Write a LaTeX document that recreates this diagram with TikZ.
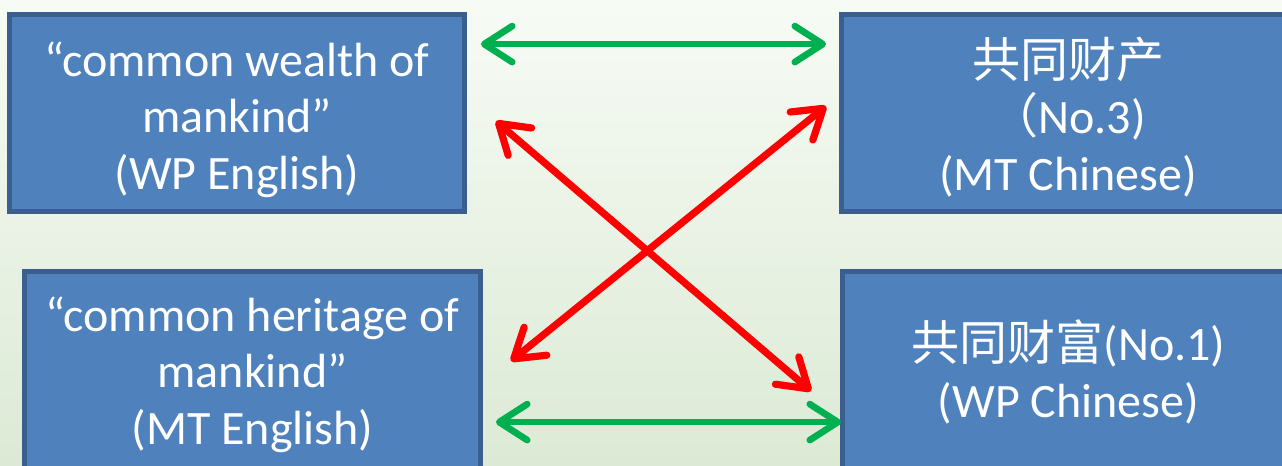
\documentclass[tikz,border=0pt]{standalone}
\usepackage{fontspec}
\setmainfont{Carlito}
\newfontfamily\cjk{Noto Sans CJK SC}
\usetikzlibrary{arrows.meta, calc}
\definecolor{boxfill}{HTML}{4F81BD}
\definecolor{boxline}{HTML}{3A5E8E}
\definecolor{linkgreen}{HTML}{00B050}
\definecolor{linkred}{HTML}{FF0000}
\definecolor{bgtop}{HTML}{F7FBF5}
\definecolor{bgbottom}{HTML}{DCEAD5}
\def\px{0.75pt}
\newcommand{\firstline}[1][36pt]{\rule{0pt}{#1}}
\tikzset{
  termbox/.style={draw=boxline, line width=3.6pt, fill=boxfill, text=white,
    align=center, inner sep=0pt, font=\fontsize{36}{42.5}\selectfont},
  samelink/.style={draw=linkgreen, line width=5pt,
    {Straight Barb[length=21pt,width=27pt,round]}-{Straight Barb[length=21pt,width=27pt,round]}},
  crosslink/.style={draw=linkred, line width=5.4pt,
    {Straight Barb[length=21pt,width=27pt,round]}-{Straight Barb[length=21pt,width=27pt,round]}},
}

\begin{document}
\begin{tikzpicture}[x=\px, y=-\px]
\useasboundingbox (0,0) rectangle (1282,465);
\clip (0,0) rectangle (1282,465);
\shade[top color=bgtop, bottom color=bgbottom] (0,0) rectangle (1282,465);

% the four renderings
\node[termbox, minimum width=455*\px, minimum height=197*\px] (wpEn) at (237,113)
  {\firstline``common wealth of\\ mankind''\\ (WP English)};
\node[termbox, minimum width=453*\px, minimum height=197*\px] (mtZh) at (1068,113)
  {\firstline{\cjk 共同财产}\\ {\cjk （}No.3)\\ (MT Chinese)};
\node[termbox, minimum width=456*\px, minimum height=201*\px] (mtEn) at (252.5,372)
  {\firstline[30pt]``common heritage of\\ mankind''\\ (MT English)};
\node[termbox, minimum width=452*\px, minimum height=201*\px] (wpZh) at (1068.5,372)
  {\firstline[30pt]{\cjk 共同财富}(No.1)\\ (WP Chinese)};

% arrow ends
\coordinate (g1a) at ($(wpEn.north east)+(14,32)$);
\coordinate (g1b) at ($(mtZh.north west)+(-13,32)$);
\coordinate (g2a) at ($(mtEn.north east)+(13,153)$);
\coordinate (g2b) at ($(wpZh.north west)+(1,153)$);
\coordinate (r1a) at ($(wpEn.north east)+(29,109)$);
\coordinate (r1b) at ($(wpZh.north west)+(-29,122)$);
\coordinate (r2a) at ($(mtEn.north east)+(28,92)$);
\coordinate (r2b) at ($(mtZh.north west)+(-13,94)$);

\draw[samelink] (g1a) -- (g1b);
\draw[samelink] (g2a) -- (g2b);
\draw[crosslink] (r1a) -- (r1b);
\draw[crosslink] (r2a) -- (r2b);
\end{tikzpicture}
\end{document}
